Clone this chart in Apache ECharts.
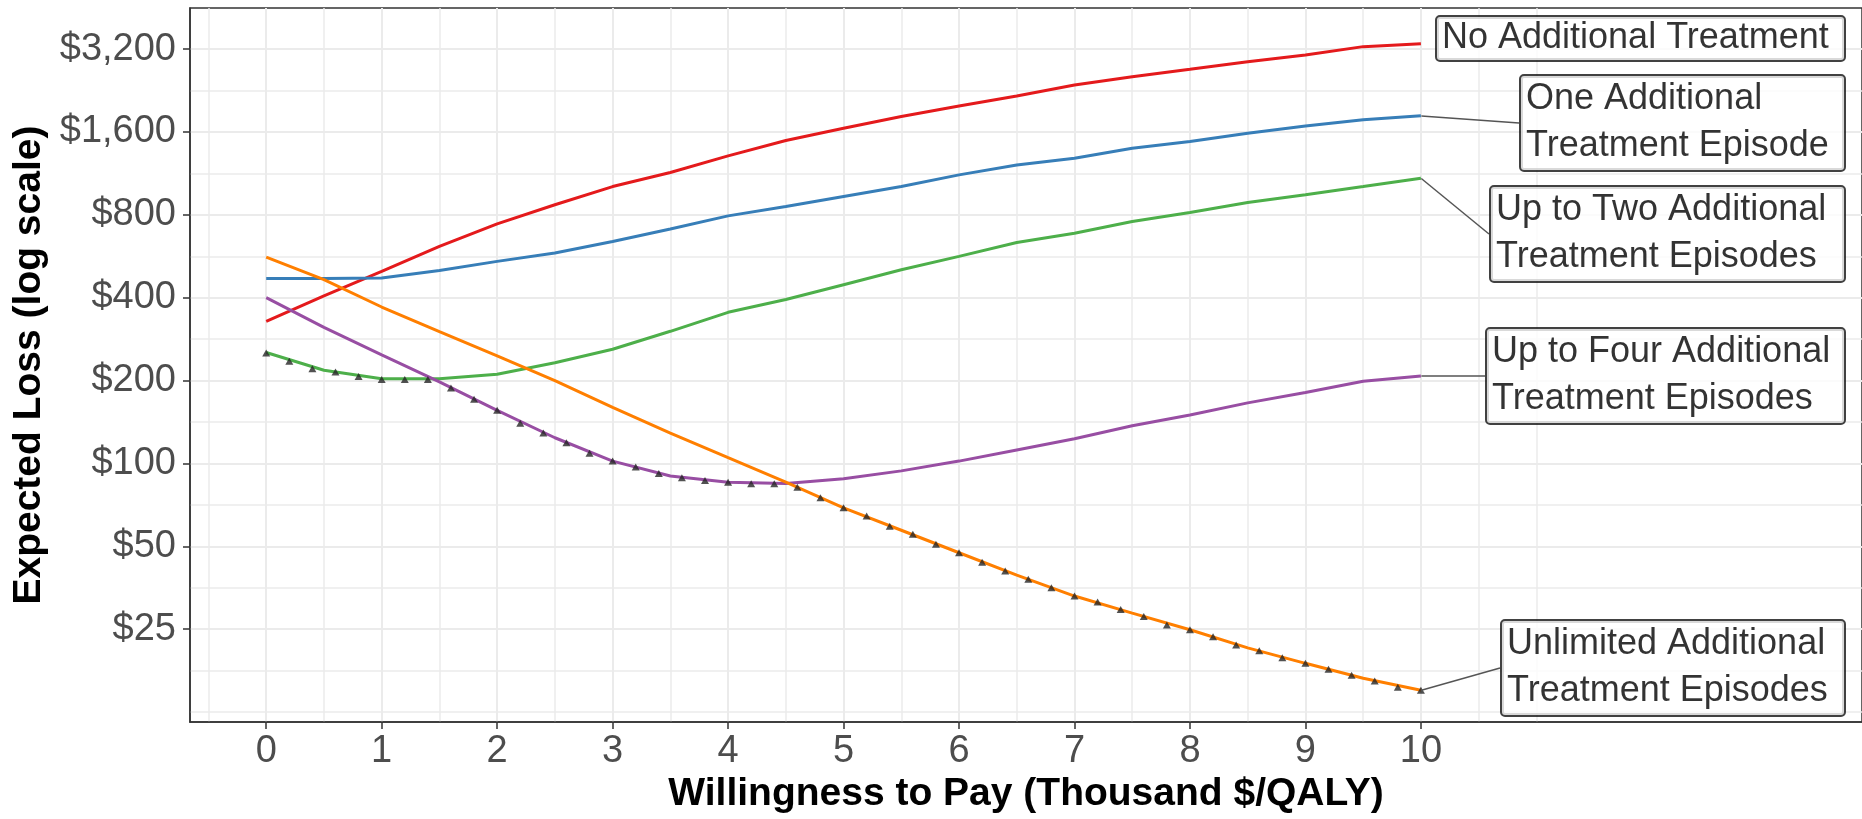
<!DOCTYPE html>
<html>
<head>
<meta charset="utf-8">
<title>Expected Loss</title>
<script src="https://cdn.jsdelivr.net/npm/echarts@6/dist/echarts.min.js"></script>
<style>
    html, body { margin: 0; padding: 0; background: #ffffff; }
    #chart { width: 1862px; height: 819px; }
</style>
</head>
<body>
<div id="chart"></div>
<script>
// willingness to pay, thousand $/QALY
const wtp = [0, 0.5, 1, 1.5, 2, 2.5, 3, 3.5, 4, 4.5, 5, 5.5, 6, 6.5, 7, 7.5, 8, 8.5, 9, 9.5, 10];

// expected loss per strategy ($)
const noAdditional = [328, 406, 498, 614, 742, 870, 1013, 1140, 1310, 1490, 1649, 1820, 1988, 2161, 2368, 2540, 2700, 2877, 3045, 3265, 3345];
const oneAdditional = [470, 470, 472, 502, 542, 581, 640, 710, 793, 857, 932, 1013, 1117, 1214, 1284, 1396, 1476, 1583, 1681, 1771, 1830];
const upToTwo = [253, 218, 203, 203, 211, 232, 260, 302, 354, 394, 446, 505, 565, 635, 686, 757, 816, 887, 946, 1013, 1087];
const upToFour = [400, 312, 248, 198, 156, 124, 102, 90, 85.5, 84.5, 88, 94, 102, 112, 123, 137, 150, 166, 181, 199, 208];
const unlimited = [562, 465, 370, 301, 246, 200, 160, 129, 105, 85.5, 69, 57.2, 47.4, 39.3, 33, 28.6, 24.9, 21.4, 18.8, 16.6, 15];

// lowest expected loss, marked every 0.2
const minX = [0, 0.2, 0.4, 0.6, 0.8, 1, 1.2, 1.4, 1.6, 1.8, 2, 2.2, 2.4, 2.6, 2.8, 3, 3.2, 3.4, 3.6, 3.8, 4,
    4.2, 4.4, 4.6, 4.8, 5, 5.2, 5.4, 5.6, 5.8, 6, 6.2, 6.4, 6.6, 6.8, 7, 7.2, 7.4, 7.6, 7.8, 8,
    8.2, 8.4, 8.6, 8.8, 9, 9.2, 9.4, 9.6, 9.8, 10];
const minLoss = [252, 235, 221, 215, 207, 202, 202, 202, 188, 171, 156, 140, 129, 119, 109, 102, 97, 92, 88.7, 86.8, 85.5,
    84.4, 84.4, 82, 75, 69, 64.4, 59.2, 55.3, 50.9, 47.4, 43.8, 40.7, 38, 35.4, 33, 31.4, 29.5, 27.8, 25.9, 24.9,
    23.5, 21.9, 20.9, 19.7, 18.8, 17.9, 17.0, 16.2, 15.4, 15.0];

// axis breaks
const xTicks = [0, 1, 2, 3, 4, 5, 6, 7, 8, 9, 10];
const xMinor = [-0.5, 0.5, 1.5, 2.5, 3.5, 4.5, 5.5, 6.5, 7.5, 8.5, 9.5, 10.5, 11];
const yTicks = [25, 50, 100, 200, 400, 800, 1600, 3200];
const yMinor = [12.5, 17.68, 35.36, 70.71, 141.42, 282.84, 565.69, 1131.37, 2262.74];

const labelNames = [
    'No Additional Treatment',
    'One Additional\nTreatment Episode',
    'Up to Two Additional\nTreatment Episodes',
    'Up to Four Additional\nTreatment Episodes',
    'Unlimited Additional\nTreatment Episodes'
];

const FONT = 'Liberation Sans, Arial, Helvetica, sans-serif';
const colors = ['#E41A1C', '#377EB8', '#4DAF4A', '#984EA3', '#FF7F00'];
const seriesValues = [noAdditional, oneAdditional, upToTwo, upToFour, unlimited];

// label box placement (pixels)
const boxes = [
    { x: 1437, y: 17, w: 398, lh: 43, line: false },
    { x: 1521, y: 76, w: 314, lh: 47, line: true },
    { x: 1491, y: 187, w: 344, lh: 47, line: true },
    { x: 1487, y: 329, w: 348, lh: 47, line: true },
    { x: 1502, y: 621, w: 333, lh: 47, line: true }
];

const chart = echarts.init(document.getElementById('chart'), null, { renderer: 'canvas' });

function pairs(xs, ys) {
    return xs.map((x, i) => [x, ys[i]]);
}

const lineSeries = seriesValues.map((vals, i) => ({
    type: 'line',
    name: labelNames[i],
    data: pairs(wtp, vals),
    xAxisIndex: 0,
    yAxisIndex: 0,
    showSymbol: false,
    smooth: false,
    lineStyle: { color: colors[i], width: 3 },
    itemStyle: { color: colors[i] },
    z: 3
}));

const labelSeries = seriesValues.map((vals, i) => ({
    type: 'scatter',
    silent: true,
    data: [[wtp[wtp.length - 1], vals[vals.length - 1]]],
    symbolSize: 1,
    itemStyle: { color: 'rgba(0,0,0,0)' },
    z: 6,
    label: {
        show: true,
        formatter: labelNames[i],
        fontFamily: FONT,
        fontSize: 36,
        lineHeight: boxes[i].lh,
        color: '#000000',
        backgroundColor: '#ffffff',
        borderColor: '#111111',
        borderWidth: 2,
        borderRadius: 3,
        padding: [0, 4, 0, 5],
        width: boxes[i].w,
        overflow: 'none',
        align: 'left'
    },
    labelLayout: {
        x: boxes[i].x,
        y: boxes[i].y,
        align: 'left',
        verticalAlign: 'top'
    },
    labelLine: {
        show: boxes[i].line,
        lineStyle: { color: '#555555', width: 1.5 }
    }
}));

const option = {
    animation: false,
    backgroundColor: '#ffffff',
    grid: {
        left: 190,
        right: -22,
        top: 8,
        bottom: 96,
        show: true,
        borderColor: '#333333',
        borderWidth: 1.5,
        containLabel: false
    },
    xAxis: [{
        type: 'value',
        min: -0.66,
        max: 13.82,
        position: 'bottom',
        name: 'Willingness to Pay (Thousand $/QALY)',
        nameLocation: 'middle',
        nameGap: 50,
        nameTextStyle: { fontFamily: FONT, fontSize: 39, fontWeight: 'bold', color: '#000000' },
        axisLine: { show: true, onZero: false, lineStyle: { color: '#333333', width: 1.5 } },
        axisTick: { show: true, length: 7, customValues: xTicks, lineStyle: { color: '#333333', width: 1.5 } },
        axisLabel: { customValues: xTicks, fontFamily: FONT, fontSize: 38, color: '#4d4d4d', margin: 10 },
        splitLine: { show: true, lineStyle: { color: '#ebebeb', width: 2 } }
    }, {
        type: 'value',
        min: -0.66,
        max: 13.82,
        position: 'bottom',
        axisLine: { show: false, onZero: false },
        axisTick: { show: false, customValues: xMinor },
        axisLabel: { show: false },
        splitLine: { show: true, lineStyle: { color: '#ebebeb', width: 1.5 } }
    }],
    yAxis: [{
        type: 'log',
        logBase: 2,
        min: 11.5,
        max: 4510,
        position: 'left',
        name: 'Expected Loss (log scale)',
        nameLocation: 'middle',
        nameGap: 135,
        nameTextStyle: { fontFamily: FONT, fontSize: 39, fontWeight: 'bold', color: '#000000' },
        axisLine: { show: true, onZero: false, lineStyle: { color: '#333333', width: 1.5 } },
        axisTick: { show: true, length: 7, customValues: yTicks, lineStyle: { color: '#333333', width: 1.5 } },
        axisLabel: {
            customValues: yTicks,
            fontFamily: FONT,
            fontSize: 38,
            color: '#4d4d4d',
            margin: 14,
            formatter: function (v) {
                return '$' + Math.round(v).toLocaleString('en-US');
            }
        },
        splitLine: { show: true, lineStyle: { color: '#ebebeb', width: 2 } }
    }, {
        type: 'log',
        logBase: 2,
        min: 11.5,
        max: 4510,
        position: 'left',
        axisLine: { show: false, onZero: false },
        axisTick: { show: false, customValues: yMinor },
        axisLabel: { show: false },
        splitLine: { show: true, lineStyle: { color: '#ebebeb', width: 1.5 } }
    }],
    series: [
        ...lineSeries,
        {
            type: 'scatter',
            name: 'minimum',
            data: pairs(minX, minLoss),
            symbol: 'triangle',
            symbolSize: [8, 7],
            itemStyle: { color: '#262626' },
            silent: true,
            z: 4
        },
        ...labelSeries
    ]
};

chart.setOption(option);

window.addEventListener('resize', () => {
    chart.resize();
});
</script>
</body>
</html>
